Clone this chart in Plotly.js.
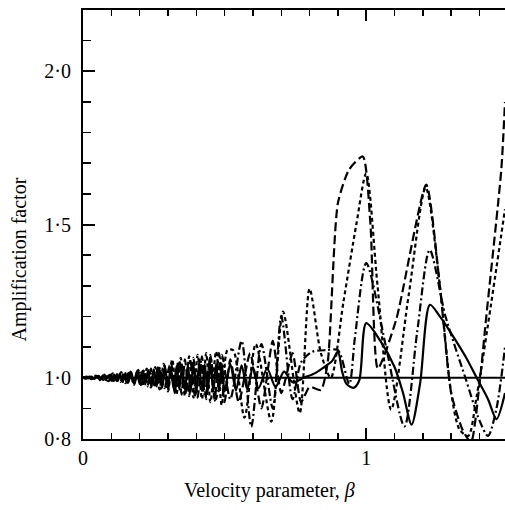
<!DOCTYPE html>
<html>
<head>
<meta charset="utf-8">
<script src="https://cdn.plot.ly/plotly-3.0.1.min.js"></script>
<style>html,body{margin:0;padding:0;background:#fff;}#chart{width:505px;height:510px;}</style>
</head>
<body>
<div id="chart"></div>
<script>
// Solid curve
const solidX = [0.00,0.01,0.02,0.03,0.04,0.05,0.06,0.07,0.08,0.09,0.10,0.11,0.12,0.13,0.14,0.15,0.16,0.17,0.18,0.19,0.20,0.21,0.22,0.23,0.24,0.25,0.26,0.27,0.28,0.29,0.30,0.31,0.32,0.33,0.34,0.35,0.36,0.37,0.38,0.39,0.40,0.41,0.42,0.43,0.44,0.45,0.46,0.47,0.48,0.49,0.50,0.52,0.54,0.56,0.58,0.60,0.62,0.65,0.68,0.71,0.74,0.78,0.82,0.86,0.88,0.90,0.915,0.93,0.955,0.975,1.00,1.05,1.10,1.13,1.16,1.19,1.225,1.26,1.30,1.35,1.39,1.43,1.46,1.49];
const solidY = [1.000,1.002,0.998,1.004,0.996,1.005,0.994,1.007,0.993,1.008,0.990,1.010,0.989,1.013,0.986,1.015,0.984,1.018,0.982,1.020,0.980,1.022,0.978,1.025,0.975,1.027,0.972,1.030,0.968,1.033,0.966,1.035,0.963,1.037,0.962,1.038,0.960,1.040,0.958,1.042,0.957,1.043,0.956,1.044,0.955,1.045,0.955,1.046,0.955,1.046,0.955,1.045,0.958,1.040,0.962,1.035,0.966,1.030,0.970,1.020,0.985,1.000,1.015,1.040,1.055,1.085,1.020,0.980,0.967,0.990,1.178,1.120,1.035,0.950,0.847,0.980,1.238,1.200,1.145,1.070,1.000,0.930,0.865,0.950];

// Short-dashed curve
const shortX = [0,0.015,0.03,0.045,0.06,0.075,0.09,0.105,0.12,0.135,0.15,0.165,0.18,0.195,0.21,0.225,0.24,0.255,0.27,0.285,0.30,0.315,0.33,0.345,0.36,0.375,0.39,0.405,0.42,0.435,0.45,0.47,0.49,0.51,0.53,0.57,0.61,0.665,0.706,0.765,0.80,0.84,0.875,0.92,0.965,1.00,1.04,1.088,1.15,1.21,1.26,1.30,1.33,1.36,1.39,1.49];
const shortY = [1.000,1.004,0.995,1.007,0.992,1.010,0.989,1.014,0.986,1.018,0.982,1.022,0.977,1.026,0.972,1.030,0.968,1.035,0.962,1.045,0.955,1.060,0.945,1.065,0.940,1.070,0.935,1.075,0.930,1.080,0.920,1.086,0.910,1.090,1.090,0.870,1.110,0.857,1.216,0.885,1.290,1.080,1.000,1.250,1.500,1.667,1.300,0.896,1.270,1.620,1.300,0.950,0.830,0.810,0.940,1.550];

// Long-dashed curve
const longX = [0,0.012,0.024,0.036,0.048,0.06,0.072,0.084,0.096,0.108,0.12,0.132,0.144,0.156,0.168,0.18,0.192,0.204,0.216,0.228,0.24,0.252,0.264,0.276,0.288,0.30,0.312,0.324,0.336,0.348,0.36,0.375,0.39,0.405,0.42,0.435,0.45,0.465,0.48,0.50,0.52,0.55,0.59,0.63,0.67,0.70,0.74,0.77,0.80,0.84,0.864,0.90,0.94,0.988,1.015,1.041,1.106,1.212,1.26,1.30,1.34,1.37,1.40,1.424,1.477,1.49];
const longY = [1.000,0.997,1.004,0.995,1.006,0.993,1.008,0.991,1.010,0.988,1.012,0.986,1.015,0.983,1.018,0.980,1.022,0.976,1.026,0.972,1.030,0.968,1.034,0.964,1.040,0.958,1.048,0.950,1.055,0.945,1.060,0.940,1.065,0.935,1.070,0.930,1.075,0.925,1.080,0.920,1.060,0.920,1.080,0.900,1.120,0.950,1.080,0.920,0.970,0.960,1.050,1.570,1.680,1.722,1.500,1.030,1.190,1.630,1.300,0.950,0.830,0.790,0.980,1.200,1.680,1.900];

// Dash-dot curve
const chainX = [0,0.018,0.036,0.054,0.072,0.09,0.108,0.126,0.144,0.162,0.18,0.198,0.216,0.234,0.252,0.27,0.288,0.306,0.324,0.342,0.36,0.378,0.396,0.414,0.432,0.45,0.47,0.49,0.52,0.56,0.594,0.63,0.67,0.70,0.74,0.77,0.81,0.86,0.90,0.94,0.96,1.00,1.07,1.135,1.18,1.224,1.28,1.35,1.40,1.43,1.46,1.49];
const chainY = [1.000,1.003,0.996,1.006,0.993,1.009,0.990,1.012,0.987,1.016,0.983,1.020,0.978,1.025,0.973,1.032,0.966,1.040,0.958,1.050,0.950,1.058,0.942,1.062,0.936,1.068,0.930,1.075,0.930,1.120,0.840,1.110,0.900,1.200,0.930,1.050,1.085,1.090,1.090,0.980,1.130,1.374,1.100,0.841,1.150,1.417,1.200,1.000,0.860,0.810,0.900,1.100];

// Reference line at 1.0
const refX = [0, 1.49];
const refY = [1, 1];

const yTickVals = [0.8, 1.0, 1.5, 2.0];
const yTickText = ['0·8', '1·0', '1·5', '2·0'];
const xTickVals = [0, 1];
const xTickText = ['0', '1'];

const font = 'Liberation Serif, Times New Roman, serif';
const lw = 2.2;
const traces = [
  {x: refX, y: refY, mode: 'lines', line: {color: '#000', width: 2}},
  {x: solidX, y: solidY, mode: 'lines', line: {color: '#000', width: lw, shape: 'spline', smoothing: 0.8}},
  {x: shortX, y: shortY, mode: 'lines', line: {color: '#000', width: lw, dash: '4px,3px', shape: 'spline', smoothing: 0.8}},
  {x: longX, y: longY, mode: 'lines', line: {color: '#000', width: lw, dash: '9px,4px', shape: 'spline', smoothing: 0.6}},
  {x: chainX, y: chainY, mode: 'lines', line: {color: '#000', width: lw, dash: '8px,3px,2px,3px', shape: 'spline', smoothing: 0.8}}
];

const layout = {
  width: 505, height: 510,
  margin: {l: 83, r: 0, t: 10, b: 71},
  paper_bgcolor: '#fff', plot_bgcolor: '#fff',
  showlegend: false,
  font: {family: font, color: '#000', size: 20},
  xaxis: {
    range: [0, 1.49], tickvals: xTickVals, ticktext: xTickText,
    ticks: 'inside', ticklen: 11, tickwidth: 2, tickcolor: '#000',
    showline: true, linewidth: 2, linecolor: '#000', mirror: 'ticks',
    showgrid: false, zeroline: false,
    tickfont: {family: font, size: 20},
    minor: {dtick: 0.1, tick0: 0, ticks: 'inside', ticklen: 6, tickwidth: 1.5, tickcolor: '#000', showgrid: false}
  },
  yaxis: {
    range: [0.8, 2.2], tickvals: yTickVals, ticktext: yTickText,
    ticks: 'inside', ticklen: 12, tickwidth: 2, tickcolor: '#000',
    showline: true, linewidth: 2, linecolor: '#000',
    showgrid: false, zeroline: false, ticklabelstandoff: 6,
    tickfont: {family: font, size: 20},
    minor: {dtick: 0.1, tick0: 0.8, ticks: 'inside', ticklen: 8, tickwidth: 1.5, tickcolor: '#000', showgrid: false}
  },
  annotations: [
    {text: 'Velocity parameter, <i>β</i>', xref: 'paper', yref: 'paper', x: (269.5 - 83) / 422, y: -(490 - 439) / 429, xanchor: 'center', yanchor: 'middle', showarrow: false, font: {family: font, size: 20}},
    {text: 'Amplification factor', xref: 'paper', yref: 'paper', x: -(83 - 18.5) / 422, y: (439 - 260) / 429, xanchor: 'center', yanchor: 'middle', textangle: -90, showarrow: false, font: {family: font, size: 20}}
  ]
};

Plotly.newPlot('chart', traces, layout, {displayModeBar: false, staticPlot: true});
</script>
</body>
</html>
